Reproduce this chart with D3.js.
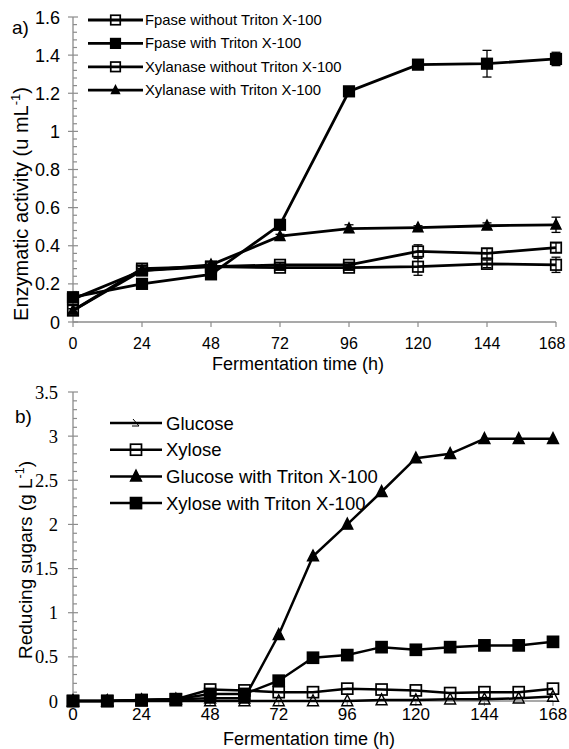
<!DOCTYPE html>
<html><head><meta charset="utf-8">
<script src="https://cdn.jsdelivr.net/npm/d3@7"></script>
<style>body{margin:0;background:#fff}svg{display:block}</style>
</head><body>
<svg id="c" width="569" height="749"></svg>
<script>
// ---- Panel a data ----
const timesA = [0, 24, 48, 72, 96, 120, 144, 168];
const fpaseNo   = [0.12, 0.27, 0.29, 0.285, 0.285, 0.29, 0.305, 0.30];
const fpaseNoErr = [0.01, 0.01, 0.01, 0.01, 0.01, 0.045, 0.02, 0.04];
const fpaseYes  = [0.13, 0.20, 0.25, 0.51, 1.21, 1.35, 1.355, 1.38];
const fpaseYesErr = [0.01, 0.01, 0.01, 0.02, 0.01, 0.015, 0.07, 0.035];
const xylNo     = [0.06, 0.28, 0.29, 0.30, 0.30, 0.37, 0.36, 0.39];
const xylNoErr  = [0.01, 0.01, 0.01, 0.01, 0.01, 0.035, 0.025, 0.025];
const xylYes    = [0.06, 0.27, 0.30, 0.45, 0.49, 0.495, 0.505, 0.51];
const xylYesErr = [0.01, 0.01, 0.01, 0.01, 0.02, 0.01, 0.015, 0.04];
const legendA = ["Fpase without Triton X-100", "Fpase with Triton X-100", "Xylanase without Triton X-100", "Xylanase with Triton X-100"];
const yTicksA = [0, 0.2, 0.4, 0.6, 0.8, 1, 1.2, 1.4, 1.6];
const xTicks = [0, 24, 48, 72, 96, 120, 144, 168];

// ---- Panel b data ----
const timesB = [0, 12, 24, 36, 48, 60, 72, 84, 96, 108, 120, 132, 144, 156, 168];
const glucose   = [0, 0, 0, 0, 0, 0, 0, 0, 0, 0.01, 0.01, 0.02, 0.02, 0.03, 0.05];
const xylose    = [0, 0, 0.01, 0.02, 0.13, 0.12, 0.10, 0.10, 0.14, 0.13, 0.12, 0.09, 0.10, 0.10, 0.14];
const glucoseT  = [0, 0, 0.01, 0.02, 0.03, 0.03, 0.75, 1.64, 2.00, 2.37, 2.75, 2.80, 2.97, 2.97, 2.97];
const xyloseT   = [0, 0, 0.01, 0.02, 0.08, 0.08, 0.23, 0.49, 0.52, 0.61, 0.58, 0.61, 0.63, 0.63, 0.67];
const legendB = ["Glucose", "Xylose", "Glucose with Triton X-100", "Xylose with Triton X-100"];
const yTicksB = [0, 0.5, 1, 1.5, 2, 2.5, 3, 3.5];

const svg = d3.select("#c");
const AX = "#8c8c8c";
const SANS = "Liberation Sans, Arial, sans-serif";
const SERIF = "Liberation Serif, Times New Roman, serif";

function marker(g, type, x, y, s) {
  if (type === "sqOpen" || type === "sqFill") {
    g.append("rect").attr("x", x - s/2).attr("y", y - s/2).attr("width", s).attr("height", s)
      .attr("fill", type === "sqFill" ? "#000" : "none").attr("stroke", "#000").attr("stroke-width", 1.7);
  } else if (type === "triFill" || type === "triOpen") {
    const h = s * 0.95;
    g.append("path").attr("d", `M${x},${y - h*0.6}L${x + s/2},${y + h*0.45}L${x - s/2},${y + h*0.45}Z`)
      .attr("fill", type === "triFill" ? "#000" : "none").attr("stroke", "#000").attr("stroke-width", 1.4);
  } else if (type === "glucLeg") {
    g.append("path").attr("d", `M${x - 3},${y - 4}L${x + 3},${y + 3}L${x - 4},${y + 3}`)
      .attr("fill", "none").attr("stroke", "#000").attr("stroke-width", 1);
  }
}

// ================= Panel a =================
const xa = d3.scaleLinear().domain([0, 168]).range([73, 556]);
const ya = d3.scaleLinear().domain([0, 1.6]).range([322, 17]);

const ga = svg.append("g");
ga.append("line").attr("x1", xa(0)).attr("x2", xa(0)).attr("y1", ya(0)).attr("y2", ya(1.6)).attr("stroke", AX).attr("stroke-width", 1.3);
d3.range(0, 1.6001, 0.04).forEach(v => {
  const major = Math.abs(v / 0.2 - Math.round(v / 0.2)) < 1e-6;
  ga.append("line").attr("x1", xa(0) - (major ? 5 : 0)).attr("x2", xa(0) + (major ? 5 : 4))
    .attr("y1", ya(v)).attr("y2", ya(v)).attr("stroke", AX).attr("stroke-width", 1.2);
});
yTicksA.forEach(v => {
  ga.append("text").attr("x", 60).attr("y", ya(v) + 6.5).attr("text-anchor", "end")
    .attr("font-family", SANS).attr("font-size", 18).text(v);
});
ga.append("line").attr("x1", xa(0)).attr("x2", xa(168)).attr("y1", ya(0)).attr("y2", ya(0)).attr("stroke", AX).attr("stroke-width", 1.3);
xTicks.forEach(v => {
  ga.append("line").attr("x1", xa(v)).attr("x2", xa(v)).attr("y1", ya(0)).attr("y2", ya(0) + 5).attr("stroke", AX).attr("stroke-width", 1.2);
  ga.append("text").attr("x", Math.min(xa(v), 552)).attr("y", 349).attr("text-anchor", "middle")
    .attr("font-family", SANS).attr("font-size", 16).text(v);
});
ga.append("text").attr("x", 298).attr("y", 370).attr("text-anchor", "middle")
  .attr("font-family", SANS).attr("font-size", 18).text("Fermentation time (h)");
const yla = ga.append("text").attr("transform", "translate(28,204) rotate(-90)").attr("text-anchor", "middle")
  .attr("font-family", SANS).attr("font-size", 20);
yla.append("tspan").text("Enzymatic activity (u mL");
yla.append("tspan").attr("font-size", 13).attr("dy", -8).text("-1");
yla.append("tspan").attr("dy", 8).text(")");
ga.append("text").attr("x", 12).attr("y", 34).attr("font-family", SANS).attr("font-size", 19).text("a)");

const seriesA = [
  {v: fpaseNo, e: fpaseNoErr, m: "sqOpen"},
  {v: fpaseYes, e: fpaseYesErr, m: "sqFill"},
  {v: xylNo, e: xylNoErr, m: "sqOpen"},
  {v: xylYes, e: xylYesErr, m: "triFill"}
];
const lineA = d3.line().x((d, i) => xa(timesA[i])).y(d => ya(d));
seriesA.forEach(s => {
  ga.append("path").datum(s.v).attr("d", lineA).attr("fill", "none").attr("stroke", "#000").attr("stroke-width", 2.8);
});
seriesA.forEach(s => {
  s.v.forEach((d, i) => {
    const x = xa(timesA[i]), e = s.e[i];
    ga.append("line").attr("x1", x).attr("x2", x).attr("y1", ya(d - e)).attr("y2", ya(d + e)).attr("stroke", "#000").attr("stroke-width", 1.3);
    [d - e, d + e].forEach(q => ga.append("line").attr("x1", x - 4.5).attr("x2", x + 4.5).attr("y1", ya(q)).attr("y2", ya(q)).attr("stroke", "#000").attr("stroke-width", 1.3));
    marker(ga, s.m, x, ya(d), s.m === "triFill" ? 10 : 10.5);
  });
});
legendA.forEach((t, i) => {
  const y = 20 + i * 23.4;
  ga.append("line").attr("x1", 88).attr("x2", 143).attr("y1", y).attr("y2", y).attr("stroke", "#000").attr("stroke-width", 2.8);
  marker(ga, seriesA[i].m, 115.5, y, seriesA[i].m === "triFill" ? 8 : 9.5);
  ga.append("text").attr("x", 145).attr("y", y + 5).attr("font-family", SANS).attr("font-size", 14.8).text(t);
});

// ================= Panel b =================
const xb = d3.scaleLinear().domain([0, 168]).range([73, 553]);
const yb = d3.scaleLinear().domain([0, 3.5]).range([701, 392]);
const gb = svg.append("g");
gb.append("line").attr("x1", xb(0)).attr("x2", xb(0)).attr("y1", yb(0)).attr("y2", yb(3.5)).attr("stroke", AX).attr("stroke-width", 1.3);
d3.range(0, 3.5001, 0.1).forEach(v => {
  const major = Math.abs(v / 0.5 - Math.round(v / 0.5)) < 1e-6;
  gb.append("line").attr("x1", xb(0) - (major ? 5 : 0)).attr("x2", xb(0) + (major ? 5 : 4))
    .attr("y1", yb(v)).attr("y2", yb(v)).attr("stroke", AX).attr("stroke-width", 1.2);
});
yTicksB.forEach(v => {
  gb.append("text").attr("x", 58).attr("y", yb(v) + 6.5).attr("text-anchor", "end")
    .attr("font-family", SERIF).attr("font-size", 18.5).text(v);
});
gb.append("line").attr("x1", xb(0)).attr("x2", xb(168)).attr("y1", yb(0)).attr("y2", yb(0)).attr("stroke", AX).attr("stroke-width", 1.3);
xTicks.forEach(v => {
  gb.append("line").attr("x1", xb(v)).attr("x2", xb(v)).attr("y1", yb(0)).attr("y2", yb(0) + 5).attr("stroke", AX).attr("stroke-width", 1.2);
  gb.append("text").attr("x", xb(v)).attr("y", 720).attr("text-anchor", "middle")
    .attr("font-family", SANS).attr("font-size", 17).text(v);
});
gb.append("text").attr("x", 309).attr("y", 745).attr("text-anchor", "middle")
  .attr("font-family", SANS).attr("font-size", 18).text("Fermentation time (h)");
const ylb = gb.append("text").attr("transform", "translate(32,560) rotate(-90)").attr("text-anchor", "middle")
  .attr("font-family", SANS).attr("font-size", 19);
ylb.append("tspan").text("Reducing sugars (g L");
ylb.append("tspan").attr("font-size", 12.5).attr("dy", -8).text("-1");
ylb.append("tspan").attr("dy", 8).text(")");
gb.append("text").attr("x", 15).attr("y", 423).attr("font-family", SANS).attr("font-size", 19).text("b)");

const seriesB = [
  {v: glucose, m: "triOpen", lm: "glucLeg"},
  {v: xylose, m: "sqOpen", lm: "sqOpen"},
  {v: glucoseT, m: "triFill", lm: "triFill"},
  {v: xyloseT, m: "sqFill", lm: "sqFill"}
];
const lineB = d3.line().x((d, i) => xb(timesB[i])).y(d => yb(d));
seriesB.forEach(s => {
  gb.append("path").datum(s.v).attr("d", lineB).attr("fill", "none").attr("stroke", "#000").attr("stroke-width", 2.5);
});
seriesB.forEach(s => {
  s.v.forEach((d, i) => marker(gb, s.m, xb(timesB[i]), yb(d), 11));
});
legendB.forEach((t, i) => {
  const y = 423 + i * 26.7;
  gb.append("line").attr("x1", 110).attr("x2", 162).attr("y1", y).attr("y2", y).attr("stroke", "#000").attr("stroke-width", 2.5);
  marker(gb, seriesB[i].lm, 136, y, 11);
  gb.append("text").attr("x", 166).attr("y", y + 6.5).attr("font-family", SANS).attr("font-size", 18.5).text(t);
});
</script>
</body></html>
